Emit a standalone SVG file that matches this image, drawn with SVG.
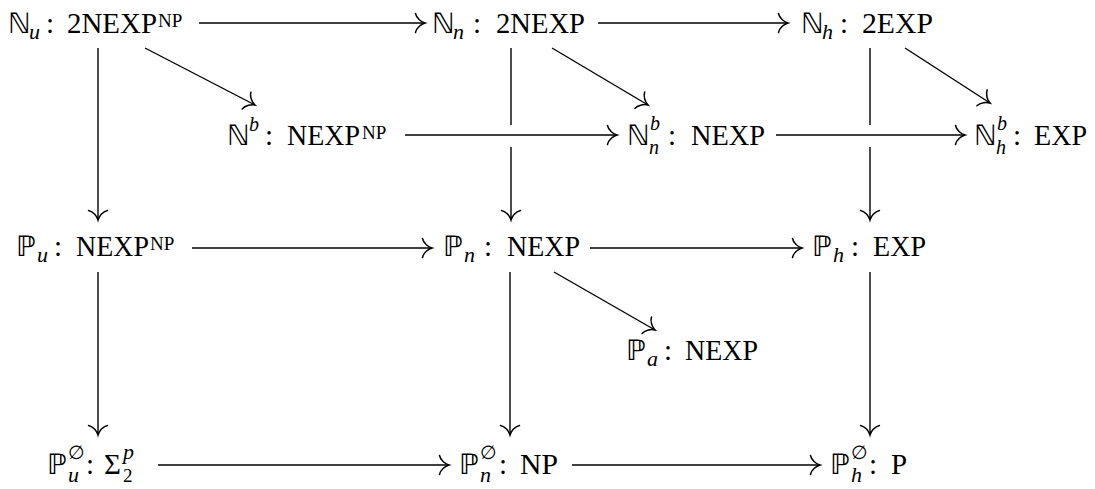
<svg xmlns="http://www.w3.org/2000/svg" width="1095" height="489" viewBox="0 0 1095 489">
  <defs>
    <style>
      text { font-family: "Liberation Serif", "DejaVu Serif", serif; font-size: 29px; fill: #000; }
      .it { font-style: italic; font-size: 22px; }
      .st { font-style: italic; font-size: 20px; }
      .sm { font-size: 19px; }
      .ds { font-family: "DejaVu Sans", "Noto Sans", sans-serif; font-size: 28px; }
      .conn { fill: none; stroke: #000; stroke-width: 1.4; marker-end: url(#to); }
    </style>
    <marker id="to" markerUnits="userSpaceOnUse" orient="auto" refX="0" refY="0" overflow="visible">
      <path d="M -9.5,-9.5 C -8.5,-4.5 -3.5,-1 0,0 C -3.5,1 -8.5,4.5 -9.5,9.5" fill="none" stroke="#000" stroke-width="1.5" stroke-linecap="round"/>
    </marker>
  </defs>

  <!-- top row -->
  <g id="N_u">
    <text y="33"><tspan class="ds" x="8">ℕ</tspan><tspan class="it" x="29" y="39">u</tspan><tspan x="46" y="33">:</tspan><tspan x="67" textLength="90" lengthAdjust="spacingAndGlyphs">2NEXP</tspan><tspan class="sm" x="158" y="27">NP</tspan></text>
  </g>
  <g id="N_n">
    <text y="33"><tspan class="ds" x="432">ℕ</tspan><tspan class="it" x="453" y="39">n</tspan><tspan x="473" y="33">:</tspan><tspan x="496" textLength="89" lengthAdjust="spacingAndGlyphs">2NEXP</tspan></text>
  </g>
  <g id="N_h">
    <text y="33"><tspan class="ds" x="801">ℕ</tspan><tspan class="it" x="822" y="39">h</tspan><tspan x="840" y="33">:</tspan><tspan x="862" textLength="71" lengthAdjust="spacingAndGlyphs">2EXP</tspan></text>
  </g>

  <!-- bounded row -->
  <g id="N_b">
    <text y="145"><tspan class="ds" x="227">ℕ</tspan><tspan class="st" x="249" y="131">b</tspan><tspan x="265" y="145">:</tspan><tspan x="287" textLength="73" lengthAdjust="spacingAndGlyphs">NEXP</tspan><tspan class="sm" x="362" y="139">NP</tspan></text>
  </g>
  <g id="N_b_n">
    <text y="145"><tspan class="ds" x="627">ℕ</tspan><tspan class="st" x="650" y="130">b</tspan><tspan class="st" x="649" y="154">n</tspan><tspan x="668" y="145">:</tspan><tspan x="691" textLength="74" lengthAdjust="spacingAndGlyphs">NEXP</tspan></text>
  </g>
  <g id="N_b_h">
    <text y="145"><tspan class="ds" x="974">ℕ</tspan><tspan class="st" x="997" y="130">b</tspan><tspan class="st" x="996" y="154">h</tspan><tspan x="1013" y="145">:</tspan><tspan x="1034" textLength="53" lengthAdjust="spacingAndGlyphs">EXP</tspan></text>
  </g>

  <!-- middle row -->
  <g id="P_u">
    <text y="256"><tspan class="ds" x="16">ℙ</tspan><tspan class="it" x="37" y="262">u</tspan><tspan x="54" y="256">:</tspan><tspan x="76" textLength="73" lengthAdjust="spacingAndGlyphs">NEXP</tspan><tspan class="sm" x="150" y="250">NP</tspan></text>
  </g>
  <g id="P_n">
    <text y="256"><tspan class="ds" x="443">ℙ</tspan><tspan class="it" x="464" y="262">n</tspan><tspan x="484" y="256">:</tspan><tspan x="507" textLength="73" lengthAdjust="spacingAndGlyphs">NEXP</tspan></text>
  </g>
  <g id="P_h">
    <text y="256"><tspan class="ds" x="812">ℙ</tspan><tspan class="it" x="833" y="262">h</tspan><tspan x="851" y="256">:</tspan><tspan x="873" textLength="53" lengthAdjust="spacingAndGlyphs">EXP</tspan></text>
  </g>
  <g id="P_a">
    <text y="360"><tspan class="ds" x="626">ℙ</tspan><tspan class="it" x="647" y="366">a</tspan><tspan x="664" y="360">:</tspan><tspan x="685" textLength="73" lengthAdjust="spacingAndGlyphs">NEXP</tspan></text>
  </g>

  <!-- bottom row -->
  <g id="P0_u">
    <text y="474"><tspan class="ds" x="47">ℙ</tspan><tspan class="sm" x="68" y="459">∅</tspan><tspan class="it" x="68" y="482">u</tspan><tspan x="86" y="474">:</tspan><tspan x="104">Σ</tspan><tspan class="it" x="123" y="459">p</tspan><tspan class="sm" x="123" y="482">2</tspan></text>
  </g>
  <g id="P0_n">
    <text y="474"><tspan class="ds" x="459">ℙ</tspan><tspan class="sm" x="480" y="459">∅</tspan><tspan class="it" x="480" y="482">n</tspan><tspan x="499" y="474">:</tspan><tspan x="520" textLength="38" lengthAdjust="spacingAndGlyphs">NP</tspan></text>
  </g>
  <g id="P0_h">
    <text y="474"><tspan class="ds" x="830">ℙ</tspan><tspan class="sm" x="851" y="459">∅</tspan><tspan class="it" x="851" y="482">h</tspan><tspan x="869" y="474">:</tspan><tspan x="891">P</tspan></text>
  </g>

  <g id="connectors">
    <!-- horizontal -->
    <path class="conn" d="M199,23 H425"/>
    <path class="conn" d="M598,23 H788"/>
    <path class="conn" d="M405,135 H617"/>
    <path class="conn" d="M776,135 H965"/>
    <path class="conn" d="M192,248 H432"/>
    <path class="conn" d="M590,248 H802"/>
    <path class="conn" d="M158,465 H449"/>
    <path class="conn" d="M572,465 H820"/>
    <!-- vertical -->
    <path class="conn" d="M98,48 V220"/>
    <path class="conn" d="M511,48 V125 M511,147 V220"/>
    <path class="conn" d="M870,48 V125 M870,147 V220"/>
    <path class="conn" d="M98,272 V435"/>
    <path class="conn" d="M510,272 V435"/>
    <path class="conn" d="M870,272 V435"/>
    <!-- diagonal -->
    <path class="conn" d="M145,48 L255,105"/>
    <path class="conn" d="M552,48 L648,105"/>
    <path class="conn" d="M905,48 L990,103"/>
    <path class="conn" d="M554,272 L655,330"/>
  </g>
</svg>
